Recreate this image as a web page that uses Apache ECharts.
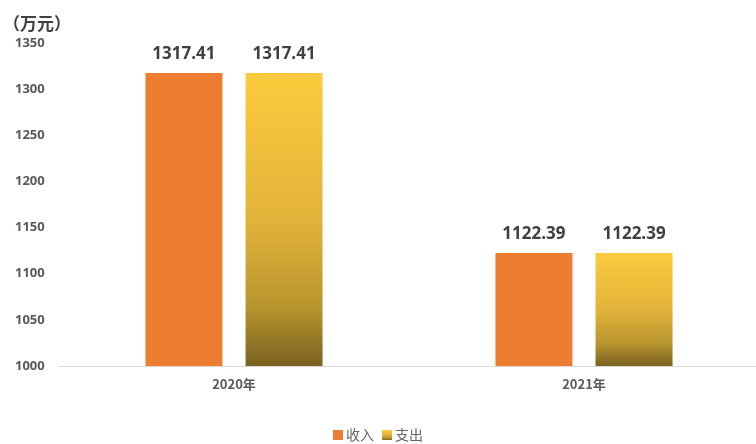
<!DOCTYPE html>
<html>
<head>
<meta charset="utf-8">
<script src="https://cdn.jsdelivr.net/npm/echarts@6/dist/echarts.min.js"></script>
<style>
  html, body { margin: 0; padding: 0; background: #ffffff; }
  #chart { width: 756px; height: 444px; }
</style>
</head>
<body>
<div id="chart"></div>
<script>
// Income and expenditure by year (unit: 万元)
const categories = ['2020年', '2021年'];
const incomeValues = [1317.41, 1122.39];
const expenseValues = [1317.41, 1122.39];
const seriesNames = ['收入', '支出'];
const yTicks = { min: 1000, max: 1350, interval: 50 };

const chart = echarts.init(document.getElementById('chart'));

const yellowGradient = new echarts.graphic.LinearGradient(0, 0, 0, 1, [
  { offset: 0, color: '#FCCB3D' },
  { offset: 0.5, color: '#E2B33A' },
  { offset: 0.8, color: '#B8952E' },
  { offset: 1, color: '#7A6221' }
]);

const labelStyle = {
  show: true,
  position: 'top',
  distance: 10,
  color: '#404040',
  fontSize: 17,
  fontWeight: 'bold',
  fontFamily: 'Open Sans, DejaVu Sans, sans-serif'
};

chart.setOption({
  animation: false,
  backgroundColor: '#ffffff',
  title: {
    text: '（万元）',
    left: -2,
    top: 10,
    textStyle: {
      fontSize: 17,
      fontWeight: 'bold',
      color: '#404040',
      fontFamily: 'Noto Sans CJK SC, sans-serif'
    }
  },
  legend: {
    bottom: -3,
    left: 'center',
    itemWidth: 10,
    itemHeight: 10,
    itemGap: 8,
    icon: 'rect',
    textStyle: {
      fontSize: 14,
      color: '#666666',
      fontFamily: 'Noto Sans CJK SC, sans-serif',
      padding: [0, 0, 0, -2]
    },
    data: seriesNames
  },
  grid: {
    left: 59,
    right: -3,
    top: 43,
    bottom: 78,
    outerBoundsMode: 'none'
  },
  xAxis: {
    type: 'category',
    data: categories,
    axisLine: { show: true, lineStyle: { color: '#D9D9D9', width: 1 } },
    axisTick: { show: false },
    axisLabel: {
      margin: 12,
      fontSize: 13,
      fontWeight: 'bold',
      color: '#595959',
      fontFamily: 'Noto Sans CJK SC, sans-serif'
    }
  },
  yAxis: {
    type: 'value',
    min: yTicks.min,
    max: yTicks.max,
    interval: yTicks.interval,
    axisLine: { show: false },
    axisTick: { show: false },
    splitLine: { show: false },
    axisLabel: {
      align: 'left',
      margin: 44,
      fontSize: 13,
      fontWeight: 'bold',
      color: '#595959',
      fontFamily: 'Open Sans, DejaVu Sans, sans-serif',
      formatter: (v) => String(v)
    }
  },
  series: [
    {
      name: seriesNames[0],
      type: 'bar',
      data: incomeValues,
      barWidth: 77,
      barGap: '30%',
      itemStyle: { color: '#ED7D31' },
      label: labelStyle
    },
    {
      name: seriesNames[1],
      type: 'bar',
      data: expenseValues,
      barWidth: 77,
      itemStyle: { color: yellowGradient },
      label: labelStyle
    }
  ]
});
</script>
</body>
</html>
